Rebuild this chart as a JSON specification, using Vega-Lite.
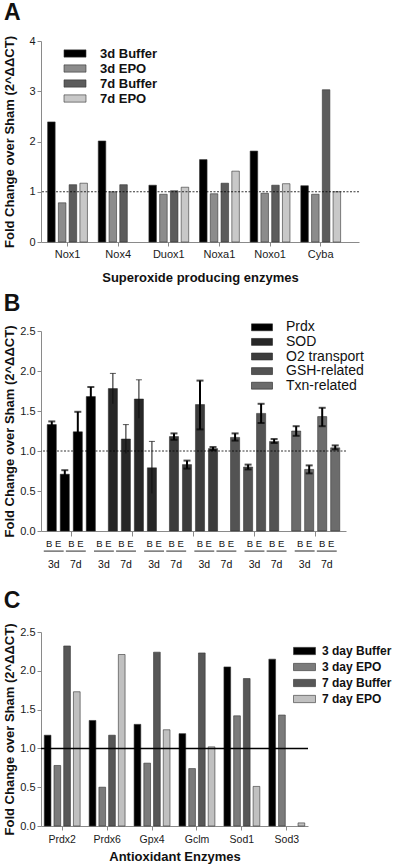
{
  "$schema": "https://vega.github.io/schema/vega-lite/v6.json",
  "padding": {"left": 3, "top": 2, "right": 0, "bottom": 0},
  "background": "white",
  "spacing": 9,
  "config": {
    "font": "Liberation Sans",
    "view": {"stroke": null},
    "axis": {"domainColor": "#8a8a8a", "tickColor": "#8a8a8a", "tickSize": 4, "labelFont": "Liberation Sans", "labelFontSize": 11, "labelColor": "#1a1a1a", "labelPadding": 2, "titleFont": "Liberation Sans", "titleFontSize": 13, "titleFontWeight": "bold", "titleColor": "#111111", "grid": false},
    "axisX": {"labelAngle": 0},
    "legend": {"padding": 0, "labelFont": "Liberation Sans", "labelColor": "#111111", "symbolStrokeColor": "#333333", "symbolStrokeWidth": 0.6, "symbolType": "M-2,-0.66H2V0.66H-2Z"},
    "title": {"fontSize": 23, "fontWeight": "bold", "anchor": "start", "frame": "bounds", "color": "#111111"}
  },
  "resolve": {"scale": {"color": "independent", "x": "independent", "y": "independent", "xOffset": "independent"}, "legend": {"color": "independent"}},
  "vconcat": [
    {
      "title": {"text": "A", "offset": 10},
      "width": 318,
      "height": 201,
      "layer": [
        {
          "data": {"values": [
            {"gene": "Nox1", "cond": "3d Buffer", "value": 2.39},
            {"gene": "Nox1", "cond": "3d EPO", "value": 0.78},
            {"gene": "Nox1", "cond": "7d Buffer", "value": 1.14},
            {"gene": "Nox1", "cond": "7d EPO", "value": 1.17},
            {"gene": "Nox4", "cond": "3d Buffer", "value": 2.01},
            {"gene": "Nox4", "cond": "3d EPO", "value": 1.0},
            {"gene": "Nox4", "cond": "7d Buffer", "value": 1.14},
            {"gene": "Duox1", "cond": "3d Buffer", "value": 1.13},
            {"gene": "Duox1", "cond": "3d EPO", "value": 0.95},
            {"gene": "Duox1", "cond": "7d Buffer", "value": 1.02},
            {"gene": "Duox1", "cond": "7d EPO", "value": 1.09},
            {"gene": "Noxa1", "cond": "3d Buffer", "value": 1.64},
            {"gene": "Noxa1", "cond": "3d EPO", "value": 0.96},
            {"gene": "Noxa1", "cond": "7d Buffer", "value": 1.17},
            {"gene": "Noxa1", "cond": "7d EPO", "value": 1.41},
            {"gene": "Noxo1", "cond": "3d Buffer", "value": 1.81},
            {"gene": "Noxo1", "cond": "3d EPO", "value": 0.97},
            {"gene": "Noxo1", "cond": "7d Buffer", "value": 1.13},
            {"gene": "Noxo1", "cond": "7d EPO", "value": 1.16},
            {"gene": "Cyba", "cond": "3d Buffer", "value": 1.12},
            {"gene": "Cyba", "cond": "3d EPO", "value": 0.95},
            {"gene": "Cyba", "cond": "7d Buffer", "value": 3.03},
            {"gene": "Cyba", "cond": "7d EPO", "value": 1.0}
          ]},
          "mark": {"type": "bar", "stroke": "#333333", "strokeWidth": 0.6},
          "encoding": {
            "x": {"field": "gene", "type": "nominal", "sort": null, "title": "Superoxide producing enzymes", "scale": {"paddingInner": 0.15, "paddingOuter": 0.215, "align": 0.23}, "axis": {"titlePadding": 12}},
            "xOffset": {"field": "cond", "type": "nominal", "sort": ["3d Buffer", "3d EPO", "7d Buffer", "7d EPO"], "scale": {"paddingInner": 0.3, "paddingOuter": 0.15}},
            "y": {"field": "value", "type": "quantitative", "scale": {"domain": [0, 4]}, "title": "Fold Change over Sham (2^ΔΔCT)", "axis": {"values": [0, 1, 2, 3, 4], "format": "d", "titlePadding": 12}},
            "color": {"field": "cond", "type": "nominal", "sort": ["3d Buffer", "3d EPO", "7d Buffer", "7d EPO"], "scale": {"range": ["#000000", "#8c8c8c", "#5c5c5c", "#c8c8c8"]},
              "legend": {"title": null, "orient": "none", "legendX": 27.5, "legendY": 6, "labelFontSize": 13, "labelFontWeight": "bold", "symbolSize": 121, "labelOffset": 18.5, "rowPadding": 1}}
          }
        },
        {
          "data": {"values": [{"ref": 1}]},
          "mark": {"type": "rule", "color": "#000000", "strokeWidth": 0.8, "strokeDash": [2, 1.5]},
          "encoding": {"y": {"field": "ref", "type": "quantitative", "scale": {"domain": [0, 4]}, "title": "Fold Change over Sham (2^ΔΔCT)", "axis": {"values": [0, 1, 2, 3, 4], "format": "d", "titlePadding": 12}}}
        }
      ]
    },
    {
      "title": {"text": "B", "offset": 4},
      "width": 305,
      "height": 200,
      "resolve": {"scale": {"x": "independent", "xOffset": "independent", "y": "independent"}},
      "layer": [
        {
          "data": {"values": [
            {"group": "Prdx", "cond": "3d B", "value": 1.33, "lo": 1.29, "hi": 1.37},
            {"group": "Prdx", "cond": "3d E", "value": 0.71, "lo": 0.66, "hi": 0.76},
            {"group": "Prdx", "cond": "7d B", "value": 1.24, "lo": 0.99, "hi": 1.49},
            {"group": "Prdx", "cond": "7d E", "value": 1.68, "lo": 1.56, "hi": 1.80},
            {"group": "SOD", "cond": "3d B", "value": 1.78, "lo": 1.59, "hi": 1.97},
            {"group": "SOD", "cond": "3d E", "value": 1.15, "lo": 0.97, "hi": 1.33},
            {"group": "SOD", "cond": "7d B", "value": 1.65, "lo": 1.41, "hi": 1.89},
            {"group": "SOD", "cond": "7d E", "value": 0.79, "lo": 0.47, "hi": 1.12},
            {"group": "O2 transport", "cond": "3d B", "value": 1.18, "lo": 1.14, "hi": 1.22},
            {"group": "O2 transport", "cond": "3d E", "value": 0.83, "lo": 0.78, "hi": 0.88},
            {"group": "O2 transport", "cond": "7d B", "value": 1.58, "lo": 1.27, "hi": 1.88},
            {"group": "O2 transport", "cond": "7d E", "value": 1.03, "lo": 1.01, "hi": 1.05},
            {"group": "GSH-related", "cond": "3d B", "value": 1.17, "lo": 1.13, "hi": 1.22},
            {"group": "GSH-related", "cond": "3d E", "value": 0.80, "lo": 0.77, "hi": 0.83},
            {"group": "GSH-related", "cond": "7d B", "value": 1.47, "lo": 1.35, "hi": 1.59},
            {"group": "GSH-related", "cond": "7d E", "value": 1.12, "lo": 1.10, "hi": 1.15},
            {"group": "Txn-related", "cond": "3d B", "value": 1.25, "lo": 1.19, "hi": 1.31},
            {"group": "Txn-related", "cond": "3d E", "value": 0.77, "lo": 0.72, "hi": 0.82},
            {"group": "Txn-related", "cond": "7d B", "value": 1.43, "lo": 1.31, "hi": 1.54},
            {"group": "Txn-related", "cond": "7d E", "value": 1.04, "lo": 1.02, "hi": 1.07}
          ]},
          "layer": [
            {
              "mark": {"type": "bar", "stroke": "#222222", "strokeWidth": 0.5},
              "encoding": {
                "x": {"field": "group", "type": "nominal", "sort": null, "title": " ", "scale": {"paddingInner": 0.148, "paddingOuter": 0.07}, "axis": {"labels": false, "tickSize": 5, "titlePadding": 33, "titleFontSize": 11}},
                "xOffset": {"field": "cond", "type": "nominal", "sort": ["3d B", "3d E", "7d B", "7d E"], "scale": {"paddingInner": 0.3, "paddingOuter": 0.15}},
                "y": {"field": "value", "type": "quantitative", "scale": {"domain": [0, 2.5]}, "title": "Fold Change over Sham (2^ΔΔCT)", "axis": {"values": [0, 0.5, 1, 1.5, 2, 2.5], "format": ".1f", "titlePadding": 3}},
                "color": {"field": "group", "type": "nominal", "sort": ["Prdx", "SOD", "O2 transport", "GSH-related", "Txn-related"], "scale": {"range": ["#000000", "#272727", "#3c3c3c", "#535353", "#6c6c6c"]},
                  "legend": {"title": null, "orient": "none", "legendX": 214, "legendY": -10.7, "labelFontSize": 14, "symbolSize": 110, "labelOffset": 17, "rowPadding": 0.6, "symbolStrokeColor": "#222222"}}
              }
            },
            {
              "transform": [{"filter": "datum.group !== 'SOD'"}],
              "mark": {"type": "rule", "color": "#000000", "strokeWidth": 2},
              "encoding": {
                "x": {"field": "group", "type": "nominal", "sort": null},
                "xOffset": {"field": "cond", "type": "nominal", "sort": ["3d B", "3d E", "7d B", "7d E"]},
                "y": {"field": "lo", "type": "quantitative", "scale": {"domain": [0, 2.5]}, "title": "Fold Change over Sham (2^ΔΔCT)", "axis": {"values": [0, 0.5, 1, 1.5, 2, 2.5], "format": ".1f", "titlePadding": 3}},
                "y2": {"field": "hi"}
              }
            },
            {
              "transform": [{"filter": "datum.group !== 'SOD'"}],
              "mark": {"type": "tick", "color": "#000000", "thickness": 2, "size": 7},
              "encoding": {
                "x": {"field": "group", "type": "nominal", "sort": null},
                "xOffset": {"field": "cond", "type": "nominal", "sort": ["3d B", "3d E", "7d B", "7d E"]},
                "y": {"field": "hi", "type": "quantitative", "scale": {"domain": [0, 2.5]}, "title": "Fold Change over Sham (2^ΔΔCT)", "axis": {"values": [0, 0.5, 1, 1.5, 2, 2.5], "format": ".1f", "titlePadding": 3}}
              }
            },
            {
              "transform": [{"filter": "datum.group !== 'SOD'"}],
              "mark": {"type": "tick", "color": "#000000", "thickness": 2, "size": 7},
              "encoding": {
                "x": {"field": "group", "type": "nominal", "sort": null},
                "xOffset": {"field": "cond", "type": "nominal", "sort": ["3d B", "3d E", "7d B", "7d E"]},
                "y": {"field": "lo", "type": "quantitative", "scale": {"domain": [0, 2.5]}, "title": "Fold Change over Sham (2^ΔΔCT)", "axis": {"values": [0, 0.5, 1, 1.5, 2, 2.5], "format": ".1f", "titlePadding": 3}}
              }
            },
            {
              "transform": [{"filter": "datum.group === 'SOD'"}],
              "mark": {"type": "rule", "color": "#111111", "strokeWidth": 1},
              "encoding": {
                "x": {"field": "group", "type": "nominal", "sort": null},
                "xOffset": {"field": "cond", "type": "nominal", "sort": ["3d B", "3d E", "7d B", "7d E"]},
                "y": {"field": "lo", "type": "quantitative", "scale": {"domain": [0, 2.5]}, "title": "Fold Change over Sham (2^ΔΔCT)", "axis": {"values": [0, 0.5, 1, 1.5, 2, 2.5], "format": ".1f", "titlePadding": 3}},
                "y2": {"field": "hi"}
              }
            },
            {
              "transform": [{"filter": "datum.group === 'SOD'"}],
              "mark": {"type": "tick", "color": "#111111", "thickness": 1, "size": 6},
              "encoding": {
                "x": {"field": "group", "type": "nominal", "sort": null},
                "xOffset": {"field": "cond", "type": "nominal", "sort": ["3d B", "3d E", "7d B", "7d E"]},
                "y": {"field": "hi", "type": "quantitative", "scale": {"domain": [0, 2.5]}, "title": "Fold Change over Sham (2^ΔΔCT)", "axis": {"values": [0, 0.5, 1, 1.5, 2, 2.5], "format": ".1f", "titlePadding": 3}}
              }
            },
            {
              "data": {"values": [{"ref": 1}]},
              "mark": {"type": "rule", "color": "#000000", "strokeWidth": 0.8, "strokeDash": [2, 1.5]},
              "encoding": {"y": {"field": "ref", "type": "quantitative", "scale": {"domain": [0, 2.5]}, "title": "Fold Change over Sham (2^ΔΔCT)", "axis": {"values": [0, 0.5, 1, 1.5, 2, 2.5], "format": ".1f", "titlePadding": 3}}}
            }
          ]
        },
        {
          "data": {"values": [
            {"lg": "g1", "t": "3d", "be": "B E"}, {"lg": "g1", "t": "7d", "be": "B E"},
            {"lg": "g2", "t": "3d", "be": "B E"}, {"lg": "g2", "t": "7d", "be": "B E"},
            {"lg": "g3", "t": "3d", "be": "B E"}, {"lg": "g3", "t": "7d", "be": "B E"},
            {"lg": "g4", "t": "3d", "be": "B E"}, {"lg": "g4", "t": "7d", "be": "B E"},
            {"lg": "g5", "t": "3d", "be": "B E"}, {"lg": "g5", "t": "7d", "be": "B E"},
            {"lg": "g6", "t": "3d", "be": "B E"}, {"lg": "g6", "t": "7d", "be": "B E"}
          ]},
          "encoding": {
            "x": {"field": "lg", "type": "nominal", "sort": null, "axis": null, "scale": {"paddingInner": 0.163, "paddingOuter": 0.12, "align": 0.23}},
            "xOffset": {"field": "t", "type": "nominal", "scale": {"paddingInner": 0.1, "paddingOuter": 0}}
          },
          "layer": [
            {
              "mark": {"type": "text", "fontSize": 9.5, "color": "#111111", "baseline": "middle"},
              "encoding": {"text": {"field": "be"}, "y": {"datum": -0.166, "type": "quantitative", "scale": {"domain": [0, 2.5]}, "axis": null}}
            },
            {
              "mark": {"type": "bar", "color": "#222222"},
              "encoding": {"y": {"datum": -0.245, "type": "quantitative", "scale": {"domain": [0, 2.5]}, "axis": null}, "y2": {"datum": -0.257}}
            },
            {
              "mark": {"type": "text", "fontSize": 10.5, "color": "#111111", "baseline": "middle"},
              "encoding": {"text": {"field": "t"}, "y": {"datum": -0.42, "type": "quantitative", "scale": {"domain": [0, 2.5]}, "axis": null}}
            }
          ]
        }
      ]
    },
    {
      "title": {"text": "C", "offset": 10},
      "width": 267,
      "height": 194,
      "layer": [
        {
          "data": {"values": [
            {"gene": "Prdx2", "cond": "3 day Buffer", "value": 1.17},
            {"gene": "Prdx2", "cond": "3 day EPO", "value": 0.78},
            {"gene": "Prdx2", "cond": "7 day Buffer", "value": 2.32},
            {"gene": "Prdx2", "cond": "7 day EPO", "value": 1.73},
            {"gene": "Prdx6", "cond": "3 day Buffer", "value": 1.36},
            {"gene": "Prdx6", "cond": "3 day EPO", "value": 0.5},
            {"gene": "Prdx6", "cond": "7 day Buffer", "value": 1.17},
            {"gene": "Prdx6", "cond": "7 day EPO", "value": 2.21},
            {"gene": "Gpx4", "cond": "3 day Buffer", "value": 1.31},
            {"gene": "Gpx4", "cond": "3 day EPO", "value": 0.81},
            {"gene": "Gpx4", "cond": "7 day Buffer", "value": 2.24},
            {"gene": "Gpx4", "cond": "7 day EPO", "value": 1.24},
            {"gene": "Gclm", "cond": "3 day Buffer", "value": 1.19},
            {"gene": "Gclm", "cond": "3 day EPO", "value": 0.74},
            {"gene": "Gclm", "cond": "7 day Buffer", "value": 2.23},
            {"gene": "Gclm", "cond": "7 day EPO", "value": 1.02},
            {"gene": "Sod1", "cond": "3 day Buffer", "value": 2.05},
            {"gene": "Sod1", "cond": "3 day EPO", "value": 1.42},
            {"gene": "Sod1", "cond": "7 day Buffer", "value": 1.9},
            {"gene": "Sod1", "cond": "7 day EPO", "value": 0.51},
            {"gene": "Sod3", "cond": "3 day Buffer", "value": 2.15},
            {"gene": "Sod3", "cond": "3 day EPO", "value": 1.43},
            {"gene": "Sod3", "cond": "7 day EPO", "value": 0.04}
          ]},
          "mark": {"type": "bar", "stroke": "#333333", "strokeWidth": 0.6},
          "encoding": {
            "x": {"field": "gene", "type": "nominal", "sort": null, "title": "Antioxidant Enzymes", "scale": {"paddingInner": 0.136, "paddingOuter": 0.04}, "axis": {"titlePadding": 6, "labelFontSize": 10.5, "labelPadding": 4}},
            "xOffset": {"field": "cond", "type": "nominal", "sort": ["3 day Buffer", "3 day EPO", "7 day Buffer", "7 day EPO"], "scale": {"paddingInner": 0.31, "paddingOuter": 0.15}},
            "y": {"field": "value", "type": "quantitative", "scale": {"domain": [0, 2.5]}, "title": "Fold Change over Sham (2^ΔΔCT)", "axis": {"values": [0, 0.5, 1, 1.5, 2, 2.5], "format": ".1f", "titlePadding": 3}},
            "color": {"field": "cond", "type": "nominal", "sort": ["3 day Buffer", "3 day EPO", "7 day Buffer", "7 day EPO"], "scale": {"range": ["#000000", "#7b7b7b", "#575757", "#c0c0c0"]},
              "legend": {"title": null, "orient": "none", "legendX": 257.5, "legendY": 13, "labelFontSize": 12, "labelFontWeight": "bold", "symbolSize": 121, "labelOffset": 11.5, "rowPadding": 4}}
          }
        },
        {
          "data": {"values": [{"ref": 1}]},
          "mark": {"type": "rule", "color": "#000000", "strokeWidth": 1.5},
          "encoding": {"y": {"field": "ref", "type": "quantitative", "scale": {"domain": [0, 2.5]}, "title": "Fold Change over Sham (2^ΔΔCT)", "axis": {"values": [0, 0.5, 1, 1.5, 2, 2.5], "format": ".1f", "titlePadding": 3}}}
        }
      ]
    }
  ]
}
